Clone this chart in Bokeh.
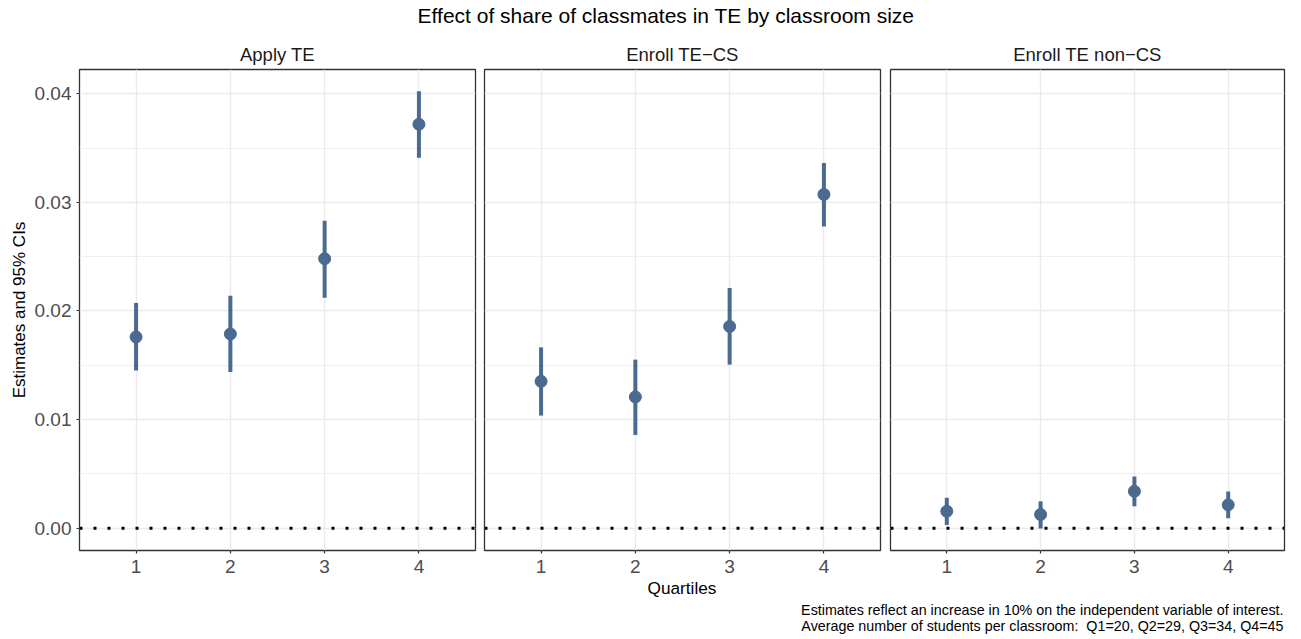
from bokeh.plotting import figure
from bokeh.layouts import column, row
from bokeh.models import (Range1d, FixedTicker, NumeralTickFormatter, Span, Label,
                          ColumnDataSource)
from bokeh.embed import file_html
from bokeh.resources import INLINE
from bokeh.core.validation import silence
from bokeh.core.validation.warnings import MISSING_RENDERERS

silence(MISSING_RENDERERS, True)

# ---- data ----
quartiles = [1, 2, 3, 4]
panels = ["Apply TE", "Enroll TE\u2212CS", "Enroll TE non\u2212CS"]

apply_est = [0.01761, 0.01788, 0.02481, 0.03719]
apply_lo = [0.01451, 0.01439, 0.02122, 0.03410]
apply_hi = [0.02074, 0.02140, 0.02831, 0.04022]

cs_est = [0.01352, 0.01209, 0.01858, 0.03073]
cs_lo = [0.01037, 0.00859, 0.01506, 0.02778]
cs_hi = [0.01665, 0.01552, 0.02212, 0.03362]

noncs_est = [0.00156, 0.00126, 0.00340, 0.00215]
noncs_lo = [0.00030, -0.00003, 0.00202, 0.00092]
noncs_hi = [0.00280, 0.00248, 0.00476, 0.00338]

y_ticks = [0.0, 0.01, 0.02, 0.03, 0.04]
y_minor = [0.005, 0.015, 0.025, 0.035]

title_text = "Effect of share of classmates in TE by classroom size"
x_label = "Quartiles"
y_label = "Estimates and 95% CIs"
caption1 = "Estimates reflect an increase in 10% on the independent variable of interest."
caption2 = "Average number of students per classroom: \u00a0Q1=20, Q2=29, Q3=34, Q4=45"

series = [(apply_est, apply_lo, apply_hi), (cs_est, cs_lo, cs_hi), (noncs_est, noncs_lo, noncs_hi)]

COLOR = "#4B6A8F"
FONT = "Liberation Sans"
W = 1301
TOP_H = 32
FRAME_H = 481
TOP = 37
BOTTOM = 28
CAP_H = 639 - TOP_H - TOP - FRAME_H - BOTTOM

specs = [
    dict(left=79, fw=396, right=4),
    dict(left=5, fw=396, right=5),
    dict(left=5, fw=394, right=17),
]

figs = []
for i, (name, (est, lo, hi)) in enumerate(zip(panels, series)):
    s = specs[i]
    p = figure(frame_width=s["fw"], frame_height=FRAME_H,
               min_border_left=s["left"], min_border_right=s["right"],
               min_border_top=TOP, min_border_bottom=BOTTOM,
               x_range=Range1d(0.4, 4.6), y_range=Range1d(-0.00205, 0.04223),
               y_axis_location="left" if i == 0 else None,
               output_backend="svg", toolbar_location=None)
    p.title.text = name
    p.title.align = "center"
    p.title.text_font = FONT
    p.title.text_font_size = "18.5px"
    p.title.text_font_style = "normal"
    p.title.text_color = "#1A1A1A"
    p.title.standoff = 10

    p.outline_line_color = "#333333"
    p.outline_line_width = 1.3
    p.background_fill_color = "white"
    p.border_fill_color = "white"

    p.xgrid.ticker = FixedTicker(ticks=quartiles)
    p.ygrid.ticker = FixedTicker(ticks=y_ticks, minor_ticks=y_minor)
    p.xgrid.grid_line_color = "#EBEBEB"
    p.xgrid.grid_line_width = 1.4
    p.ygrid.grid_line_color = "#EBEBEB"
    p.ygrid.grid_line_width = 1.4
    p.ygrid.minor_grid_line_color = "#EBEBEB"
    p.ygrid.minor_grid_line_width = 0.8

    xa = p.xaxis[0]
    xa.ticker = FixedTicker(ticks=quartiles)
    xa.axis_line_color = None
    xa.major_tick_in = 0
    xa.major_tick_out = 3
    xa.major_tick_line_color = "#333333"
    xa.major_tick_line_width = 1.2
    xa.minor_tick_line_color = None
    xa.major_label_text_font = FONT
    xa.major_label_text_font_size = "19px"
    xa.major_label_text_color = "#4D4D4D"
    xa.major_label_text_line_height = 1.0
    xa.major_label_standoff = 6

    if i == 0:
        ya = p.yaxis[0]
        ya.ticker = FixedTicker(ticks=y_ticks)
        ya.formatter = NumeralTickFormatter(format="0.00")
        ya.axis_line_color = None
        ya.major_tick_in = 0
        ya.major_tick_out = 3
        ya.major_tick_line_color = "#333333"
        ya.major_tick_line_width = 1.2
        ya.minor_tick_line_color = None
        ya.major_label_text_font = FONT
        ya.major_label_text_font_size = "19px"
        ya.major_label_text_color = "#4D4D4D"
        ya.major_label_standoff = 5
        ya.axis_label = y_label
        ya.axis_label_text_font = FONT
        ya.axis_label_text_font_size = "17px"
        ya.axis_label_text_font_style = "normal"
        ya.axis_label_text_color = "black"
        ya.axis_label_standoff = 3

    src = ColumnDataSource(dict(q=quartiles, est=est, lo=lo, hi=hi))
    zero = Span(location=0, dimension="width", line_color="black", line_width=3,
                line_dash="3 11", level="underlay")
    p.add_layout(zero)
    p.segment(x0="q", y0="lo", x1="q", y1="hi", source=src, line_color=COLOR, line_width=4)
    p.scatter(x="q", y="est", source=src, size=12, fill_color=COLOR, line_color=COLOR)
    figs.append(p)


def text_strip(height):
    # full-width strip whose frame is in pixel space (y measured downward)
    f = figure(frame_width=W, frame_height=height,
               min_border_left=0, min_border_right=0,
               min_border_top=0, min_border_bottom=0,
               x_range=Range1d(0, W), y_range=Range1d(height, 0),
               x_axis_location=None, y_axis_location=None,
               output_backend="svg", toolbar_location=None)
    f.outline_line_color = None
    f.xgrid.visible = False
    f.ygrid.visible = False
    f.title = None
    return f


top = text_strip(TOP_H)
top.add_layout(Label(x=665.5, y=15, text=title_text, text_align="center", text_baseline="middle",
                     text_font=FONT, text_font_size="21px", text_color="black"))

cap = text_strip(CAP_H)
cap.add_layout(Label(x=681.5, y=9, text=x_label, text_align="center", text_baseline="middle",
                     text_font=FONT, text_font_size="17.2px", text_color="black"))
cap.add_layout(Label(x=1283, y=31, text=caption1, text_align="right", text_baseline="middle",
                     text_font=FONT, text_font_size="14.3px", text_color="black"))
cap.add_layout(Label(x=1283, y=47, text=caption2, text_align="right", text_baseline="middle",
                     text_font=FONT, text_font_size="14.3px", text_color="black"))

layout = column(top, row(*figs, spacing=0), cap, spacing=0)
open("out.html", "w").write(file_html(layout, INLINE))
